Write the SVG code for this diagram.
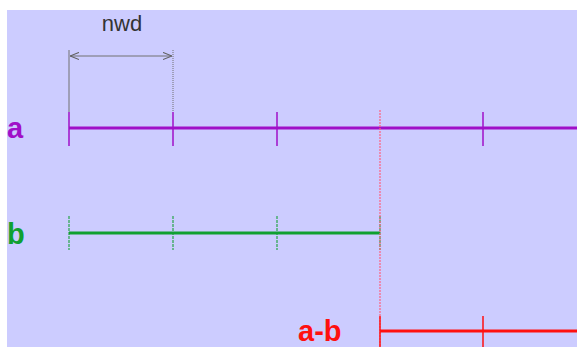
<svg xmlns="http://www.w3.org/2000/svg" width="577" height="347" viewBox="0 0 577 347">
<style>
.lbl{font-family:"Liberation Sans",Arial,sans-serif;font-size:29px}
.pa{stroke:#a010c8;fill:none}
.pb{stroke:#10a030;fill:none}
.pc{stroke:#ff1010;fill:none}
.dim{stroke:#707070;fill:none;stroke-width:1}
</style>
<defs>
<marker id="ar" viewBox="0 0 10 10" refX="10" refY="5" markerWidth="9" markerHeight="9" orient="auto-start-reverse" markerUnits="userSpaceOnUse">
<path d="M0,1 L10,5 L0,9" fill="none" stroke="#606060" stroke-width="1.2"/>
</marker>
</defs>
<rect x="7" y="10" width="570" height="337" fill="#ccccff"/>
<g id="dimension">
<line class="dim" x1="69" y1="50" x2="69" y2="112"/>
<line class="dim" x1="173" y1="50" x2="173" y2="112" stroke-dasharray="1 1"/>
<line class="dim" x1="70" y1="56" x2="172" y2="56" marker-start="url(#ar)" marker-end="url(#ar)"/>
<text x="122" y="31" text-anchor="middle" font-family="Liberation Sans,Arial,sans-serif" font-size="22" fill="#333">nwd</text>
</g>
<g id="a">
<text class="lbl" x="7" y="138" fill="#a010c8" font-weight="bold">a</text>
<line class="pa" x1="69" y1="128" x2="577" y2="128" stroke-width="3"/>
<g class="pa" stroke-width="1.5">
<line x1="69" y1="112" x2="69" y2="146"/>
<line x1="173" y1="112" x2="173" y2="146"/>
<line x1="277" y1="112" x2="277" y2="146"/>
<line x1="483" y1="112" x2="483" y2="146"/>
</g>
</g>
<g id="b">
<text class="lbl" x="7" y="244" fill="#10a030" font-weight="bold">b</text>
<line class="pb" x1="69" y1="233" x2="380" y2="233" stroke-width="3"/>
<g class="pb" stroke-width="1.5" stroke-dasharray="3 1" opacity="0.7">
<line x1="69" y1="216" x2="69" y2="250"/>
<line x1="173" y1="216" x2="173" y2="250"/>
<line x1="277" y1="216" x2="277" y2="250"/>
<line x1="380" y1="216" x2="380" y2="250"/>
</g>
</g>
<g id="connectors">
<line x1="380" y1="110" x2="380" y2="347" stroke="#ff6080" stroke-width="2" stroke-dasharray="2 1" opacity="0.6"/>
</g>
<g id="ab">
<text class="lbl" x="298" y="341" fill="#ff1010" font-weight="bold">a-b</text>
<line class="pc" x1="380" y1="331" x2="577" y2="331" stroke-width="3"/>
<g class="pc" stroke-width="1.5">
<line x1="380" y1="316" x2="380" y2="347"/>
<line x1="483" y1="316" x2="483" y2="347"/>
</g>
</g>
</svg>
